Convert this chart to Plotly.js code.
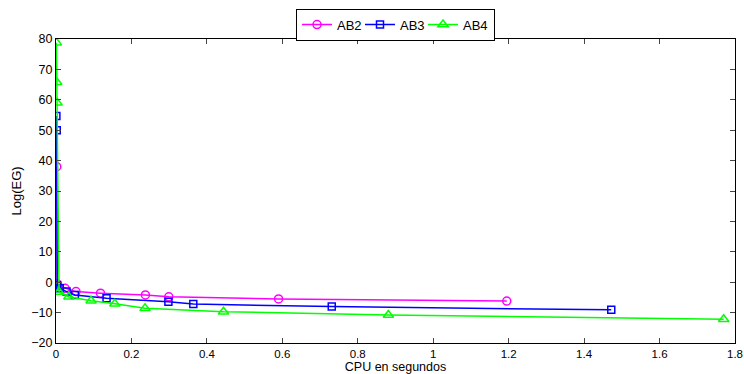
<!DOCTYPE html>
<html>
<head>
<meta charset="utf-8">
<script src="https://cdn.plot.ly/plotly-3.0.1.min.js"></script>
<style>html,body{margin:0;padding:0;background:#fff;}#chart{width:744px;height:374px;}</style>
</head>
<body>
<div id="chart"></div>
<script>
// CPU time (s) and Log(EG) per method
var ab2_x = [0.002, 0.003, 0.006, 0.024, 0.053, 0.118, 0.237, 0.299, 0.590, 1.195];
var ab2_y = [38.0, -0.5, -1.2, -2.0, -3.1, -3.6, -4.2, -4.8, -5.5, -6.2];

var ab3_x = [0.001, 0.002, 0.003, 0.010, 0.028, 0.050, 0.134, 0.298, 0.364, 0.731, 1.472];
var ab3_y = [54.7, 50.0, -1.0, -2.0, -3.1, -4.2, -5.3, -6.4, -7.2, -8.0, -9.1];

var ab4_x = [0.001, 0.002, 0.003, 0.008, 0.034, 0.093, 0.156, 0.236, 0.444, 0.881, 1.770];
var ab4_y = [78.8, 65.8, 59.0, -3.2, -4.8, -6.1, -7.1, -8.6, -9.7, -10.8, -12.2];

var names = ['AB2', 'AB3', 'AB4'];
var xTicks = [0, 0.2, 0.4, 0.6, 0.8, 1, 1.2, 1.4, 1.6, 1.8];
var xTickText = ['0', '0.2', '0.4', '0.6', '0.8', '1', '1.2', '1.4', '1.6', '1.8'];
var yTicks = [-20, -10, 0, 10, 20, 30, 40, 50, 60, 70, 80];

var traces = [
  {x: ab2_x, y: ab2_y, name: names[0], mode: 'lines+markers', type: 'scatter', legendwidth: 18,
   line: {color: '#ff00ff', width: 1.5}, marker: {symbol: 'circle-open', size: 8, color: '#ff00ff', line: {width: 1.5}}},
  {x: ab3_x, y: ab3_y, name: names[1], mode: 'lines+markers', type: 'scatter', legendwidth: 18,
   line: {color: '#0000ff', width: 1.5}, marker: {symbol: 'square-open', size: 7, color: '#0000ff', line: {width: 1.5}}},
  {x: ab4_x, y: ab4_y, name: names[2], mode: 'lines+markers', type: 'scatter', legendwidth: 26,
   line: {color: '#00ff00', width: 1.5}, marker: {symbol: 'triangle-up-open', size: 9, color: '#00ff00', line: {width: 1.5}}}
];

var layout = {
  width: 744, height: 374,
  margin: {l: 56, r: 9, t: 39, b: 31},
  paper_bgcolor: '#fff', plot_bgcolor: '#fff',
  font: {family: 'Liberation Sans, Arial, sans-serif', size: 12, color: '#000'},
  showlegend: true,
  legend: {orientation: 'h', x: 0.5, xanchor: 'center', y: 1.1, yanchor: 'top',
           bordercolor: '#000', borderwidth: 1, bgcolor: '#fff',
           font: {size: 13}, itemwidth: 30, tracegroupgap: 0},
  xaxis: {range: [0, 1.8], tickvals: xTicks, ticktext: xTickText, ticks: 'inside', ticklen: 5,
          ticklabeloverflow: 'allow',
          showline: true, linecolor: '#000', linewidth: 1, mirror: 'ticks', showgrid: false, zeroline: false,
          title: {text: 'CPU en segundos', standoff: 2, font: {size: 12.5}}, tickfont: {size: 11.5}},
  yaxis: {range: [-20, 80], tickvals: yTicks, ticks: 'inside', ticklen: 5,
          showline: true, linecolor: '#000', linewidth: 1, mirror: 'ticks', showgrid: false, zeroline: false,
          title: {text: 'Log(EG)', standoff: 6, font: {size: 13}}, tickfont: {size: 12.5}}
};

Plotly.newPlot('chart', traces, layout, {displayModeBar: false, staticPlot: true});
</script>
</body>
</html>
